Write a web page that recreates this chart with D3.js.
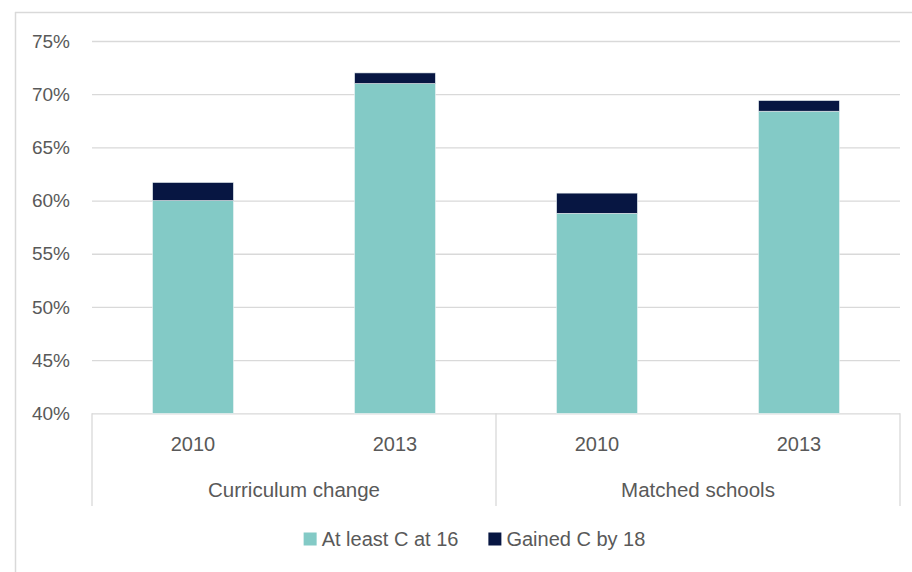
<!DOCTYPE html>
<html>
<head>
<meta charset="utf-8">
<script src="https://cdn.jsdelivr.net/npm/d3@7"></script>
<style>
  body { margin: 0; background: #fff; }
  text { font-family: "Liberation Sans", Arial, sans-serif; fill: #595959; }
</style>
</head>
<body>
<div id="chart"></div>
<script>
// data
const groups = ['Curriculum change', 'Matched schools']
const years = ['2010', '2013', '2010', '2013']
const atLeastC16 = [60.0, 71.0, 58.8, 68.4]
const gainedC18 = [1.7, 1.0, 1.9, 1.0]
const seriesNames = ['At least C at 16', 'Gained C by 18']
const colors = ['#83cac6', '#071642']
const yTicks = [40, 45, 50, 55, 60, 65, 70, 75]

const w = 912
const h = 572
const pLeft = 92, pRight = 900, pTop = 41, pBottom = 413.3

const svg = d3.select('#chart')
    .append('svg')
    .attr('width', w)
    .attr('height', h)

// outer frame of the chart (only left and top edges show)
svg.append('line').attr('x1', 15.5).attr('x2', 15.5).attr('y1', 12).attr('y2', h)
    .attr('stroke', '#d9d9d9').attr('stroke-width', 1.5)
svg.append('line').attr('x1', 15).attr('x2', w).attr('y1', 12.5).attr('y2', 12.5)
    .attr('stroke', '#d9d9d9').attr('stroke-width', 1.5)

const yScale = d3.scaleLinear().domain([40, 75]).range([pBottom, pTop])
const xScale = d3.scaleBand()
    .domain(d3.range(years.length))
    .range([pLeft, pRight])
    .paddingInner(0.6)
    .paddingOuter(0.3)

// gridlines + y tick labels
const yAxis = d3.axisLeft(yScale)
    .tickValues(yTicks)
    .tickSize(-(pRight - pLeft))
    .tickPadding(22)
    .tickFormat(d => d + '%')

const gy = svg.append('g')
    .attr('transform', 'translate(' + pLeft + ',0)')
    .call(yAxis)
gy.select('.domain').remove()
gy.selectAll('.tick line').attr('stroke', '#d9d9d9').attr('stroke-width', 1.3)
gy.selectAll('.tick text')
    .style('font-size', '19px')
    .attr('fill', '#595959')

// stacked bars
const stackData = years.map((y, i) => ({ i: i, a: atLeastC16[i], b: gainedC18[i] }))
const stack = d3.stack().keys(['a', 'b'])
const layers = stack(stackData)

svg.selectAll('g.layer')
    .data(layers)
    .enter()
    .append('g')
    .attr('class', 'layer')
    .attr('fill', (d, k) => colors[k])
    .selectAll('rect')
    .data(d => d)
    .enter()
    .append('rect')
    .attr('x', d => xScale(d.data.i))
    .attr('width', xScale.bandwidth())
    .attr('y', d => yScale(d[1]))
    .attr('height', d => yScale(Math.max(d[0], 40)) - yScale(d[1]))
    .attr('stroke', '#e8f0f2')
    .attr('stroke-width', 0.6)

// category axis: year labels, group labels, separators
const sepX = [pLeft, (pLeft + pRight) / 2, pRight]
svg.selectAll('line.sep')
    .data(sepX)
    .enter()
    .append('line')
    .attr('class', 'sep')
    .attr('x1', d => d).attr('x2', d => d)
    .attr('y1', pBottom).attr('y2', 506)
    .attr('stroke', '#d9d9d9').attr('stroke-width', 1.3)

svg.selectAll('text.year')
    .data(years)
    .enter()
    .append('text')
    .attr('class', 'year')
    .attr('x', (d, i) => xScale(i) + xScale.bandwidth() / 2)
    .attr('y', 444)
    .attr('dy', '0.35em')
    .attr('text-anchor', 'middle')
    .style('font-size', '20px')
    .text(d => d)

svg.selectAll('text.group')
    .data(groups)
    .enter()
    .append('text')
    .attr('class', 'group')
    .attr('x', (d, g) => (sepX[g] + sepX[g + 1]) / 2)
    .attr('y', 490)
    .attr('dy', '0.35em')
    .attr('text-anchor', 'middle')
    .style('font-size', '20.5px')
    .text(d => d)

// legend
const legend = svg.append('g')
let lx = 0
seriesNames.forEach((name, k) => {
    const item = legend.append('g').attr('transform', 'translate(' + lx + ',0)')
    item.append('rect').attr('x', 0).attr('y', -6.5).attr('width', 13).attr('height', 13)
        .attr('fill', colors[k])
    const t = item.append('text').attr('x', 18).attr('dy', '0.35em')
        .style('font-size', '20px').text(name)
    lx += 18 + t.node().getComputedTextLength() + 30
})
const legW = lx - 30
legend.attr('transform', 'translate(' + (474.5 - legW / 2) + ',539)')
</script>
</body>
</html>
